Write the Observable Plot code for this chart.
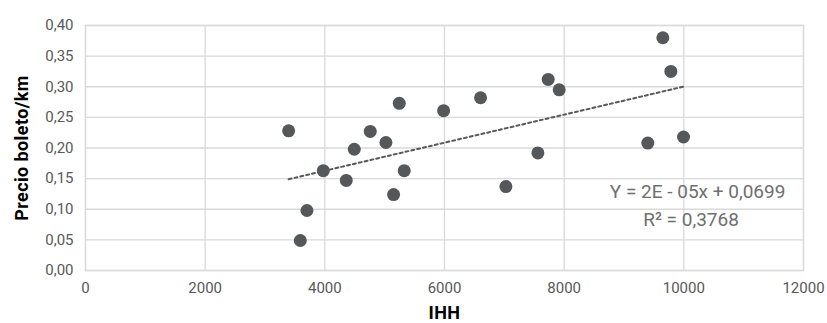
<!DOCTYPE html>
<html>
<head>
<meta charset="utf-8">
<script src="https://cdn.jsdelivr.net/npm/d3@7"></script>
<script src="https://cdn.jsdelivr.net/npm/@observablehq/plot@0.6"></script>
<style>
  html, body { margin: 0; padding: 0; background: #fff; }
  g[aria-label="y-axis label"] text, g[aria-label="x-axis label"] text { font-weight: bold; fill: #000; font-size: 18px; letter-spacing: 0.4px; }
</style>
</head>
<body>
<div id="chart"></div>
<script>
const ihh = [3395, 3590, 3701, 3974, 4358, 4492, 4759, 5021, 5149, 5244, 5327, 5985, 6603, 7026, 7561, 7733, 7917, 9649, 9783, 9398, 9995];
const precio = [0.228, 0.049, 0.098, 0.163, 0.147, 0.198, 0.227, 0.209, 0.124, 0.273, 0.163, 0.261, 0.282, 0.137, 0.192, 0.312, 0.295, 0.380, 0.325, 0.208, 0.218];
const xTicks = [0, 2000, 4000, 6000, 8000, 10000, 12000];
const yTicks = [0, 0.05, 0.10, 0.15, 0.20, 0.25, 0.30, 0.35, 0.40];
const eqLines = ["Y = 2E - 05x + 0,0699", "R² = 0,3768"];
const eqX = [10230, 10120];
const eqY = [0.128, 0.082];

const data = ihh.map((x, i) => ({x, y: precio[i]}));
const eqData = eqLines.map((t, i) => ({t, x: eqX[i], y: eqY[i]}));
const fmtY = v => d3.format(".2f")(v).replace(".", ",");

const chart = Plot.plot({
  width: 827,
  height: 323,
  marginLeft: 85,
  marginRight: 24,
  marginTop: 25,
  marginBottom: 53,
  style: { fontFamily: "Roboto, sans-serif", fontSize: "15px", color: "#595959", background: "#fff" },
  x: { domain: [0, 12000] },
  y: { domain: [0, 0.4] },
  marks: [
    Plot.gridX(xTicks, { stroke: "#d9d9d9", strokeOpacity: 1, strokeWidth: 1.3 }),
    Plot.gridY(yTicks, { stroke: "#d9d9d9", strokeOpacity: 1, strokeWidth: 1.3 }),
    Plot.frame({ stroke: "#d9d9d9", strokeWidth: 1.3 }),
    Plot.axisX(xTicks, { tickSize: 0, tickPadding: 12, tickFormat: d => String(d), label: "IHH", labelAnchor: "center", labelArrow: "none", labelOffset: 48 }),
    Plot.axisY(yTicks, { tickSize: 0, tickPadding: 12, tickFormat: fmtY, label: "Precio boleto/km", labelAnchor: "center", labelArrow: "none", labelOffset: 70 }),
    Plot.linearRegressionY(data, { x: "x", y: "y", ci: 0, stroke: "#595959", strokeWidth: 2, strokeDasharray: "3,3" }),
    Plot.dot(data, { x: "x", y: "y", r: 6.5, fill: "#54585a", stroke: "none" }),
    Plot.text(eqData, { x: "x", y: "y", text: "t", fill: "#6f6f6f", fontSize: 19, textAnchor: "middle" })
  ]
});
document.getElementById("chart").appendChild(chart);
</script>
</body>
</html>
